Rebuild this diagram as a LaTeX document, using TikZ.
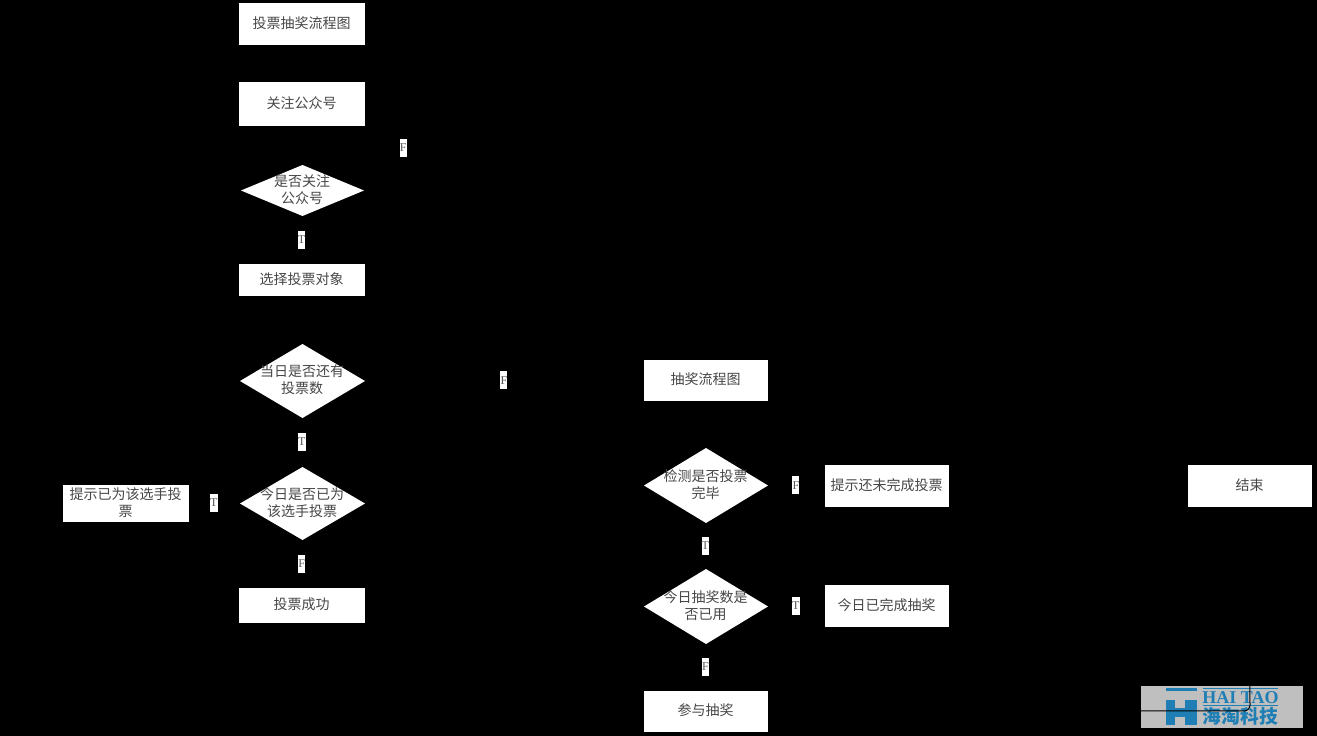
\documentclass[tikz,border=0pt]{standalone}
\usepackage{fontspec}
\setmainfont{Liberation Serif}
\newfontfamily\cjk{Noto Sans CJK SC}
\usetikzlibrary{arrows.meta}
\definecolor{logoblue}{HTML}{1F7FB5}
\definecolor{logogray}{HTML}{BFBFBF}
\tikzset{
  x=1pt,y=-1pt,
  flowbase/.style={inner sep=0pt,outer sep=0pt,text=black!72,align=center,yshift=1pt,xshift=-0.4pt,font=\cjk\fontsize{14}{17}\selectfont},
  conn/.style={draw=black,line width=1pt,shorten <=2pt,shorten >=2pt,-{Stealth[length=7pt,width=6pt]}},
  connjoin/.style={draw=black,line width=1pt,shorten <=2pt,shorten >=4pt,rounded corners=6pt},
  lbl/.style={fill=white,sharp corners,inner sep=0pt,outer sep=0pt,minimum width=7pt,minimum height=18pt,xshift=-0.2pt,yshift=-0.5pt,text=black!65,font=\fontsize{12}{12}\selectfont}
}
% centre x, centre y, width, height, name, text
\newcommand{\flowrect}[6]{%
  \fill[white] (#1-#3/2,#2-#4/2) rectangle (#1+#3/2,#2+#4/2);
  \node[flowbase,minimum width=#3pt,minimum height=#4pt] (#5) at (#1,#2) {#6};}
\newcommand{\flowdiam}[6]{%
  \fill[white] (#1-#3/2,#2) -- (#1,#2-#4/2) -- (#1+#3/2,#2) -- (#1,#2+#4/2) -- cycle;
  \node[flowbase,minimum width=#3pt,minimum height=#4pt] (#5) at (#1,#2) {#6};}
\begin{document}
\begin{tikzpicture}
\useasboundingbox (0,0) rectangle (1317,736);
\fill[black] (0,0) rectangle (1317,736);

% watermark
\fill[logogray] (1141,686) rectangle (1303,728);
\fill[logoblue] (1166,688) rectangle (1197,691);
\fill[logoblue] (1166,700) rectangle (1175,725);
\fill[logoblue] (1185,700) rectangle (1197,725);
\fill[logoblue] (1175,708) rectangle (1185,717);
\fill[logoblue] (1203,688) rectangle (1278,689);
\fill[logoblue] (1203,704.5) rectangle (1278,705.5);
\node[inner sep=0pt,text=logoblue,font=\fontsize{18}{18}\bfseries\selectfont] (logoen) at (1240.5,697.5) {HAI TAO};
\node[inner sep=0pt,text=logoblue,font=\cjk\fontsize{18.8}{19}\bfseries\selectfont] (logocn) at (1240.5,716.5) {海淘科技};

% left column
\flowrect{302}{24}{126}{42}{title1}{投票抽奖流程图}
\flowrect{302}{104}{126}{44}{follow}{关注公众号}
\flowdiam{302.5}{190.5}{123}{51}{isfollow}{是否关注\\公众号}
\flowrect{302}{280}{126}{32}{choose}{选择投票对象}
\flowdiam{302.5}{381}{125}{74}{hasvotes}{当日是否还有\\投票数}
\flowdiam{302.5}{503.5}{125}{73}{voted}{今日是否已为\\该选手投票}
\flowrect{302}{605.5}{126}{35}{success}{投票成功}
\flowrect{126}{503.5}{126}{37}{already}{提示已为该选手投\\票}

% middle column
\flowrect{706}{380.5}{124}{41}{title2}{抽奖流程图}
\flowdiam{706}{485.5}{124}{75}{check}{检测是否投票\\完毕}
\flowdiam{706}{606.5}{124}{75}{used}{今日抽奖数是\\否已用}
\flowrect{706}{711}{124}{41}{join}{参与抽奖}

% right
\flowrect{887}{486}{124}{42}{notdone}{提示还未完成投票}
\flowrect{887}{606}{124}{42}{done}{今日已完成抽奖}
\flowrect{1250}{486}{124}{42}{finish}{结束}

% connectors
\coordinate (bendA) at (403.5,190.5);
\coordinate (bendB) at (403.5,104);
\coordinate (bendC) at (1250,711);
\coordinate (bendD) at (1250,606);
\draw[conn] (title1.south) -- (follow.north);
\draw[conn] (follow.south) -- (isfollow.north);
\draw[conn] (isfollow.south) -- node[lbl]{T} (choose.north);
\draw[conn,rounded corners=6pt] (isfollow.east) -- (bendA) -- node[lbl]{F} (bendB) -- (follow.east);
\draw[conn] (choose.south) -- (hasvotes.north);
\draw[conn] (hasvotes.south) -- node[lbl]{T} (voted.north);
\draw[conn] (hasvotes.east) -- node[lbl]{F} (title2.west);
\draw[conn] (voted.west) -- node[lbl]{T} (already.east);
\draw[conn] (voted.south) -- node[lbl]{F} (success.north);
\draw[conn] (title2.south) -- (check.north);
\draw[conn] (check.east) -- node[lbl]{F} (notdone.west);
\draw[conn] (check.south) -- node[lbl]{T} (used.north);
\draw[conn] (used.east) -- node[lbl]{T} (done.west);
\draw[conn] (used.south) -- node[lbl]{F} (join.north);
\draw[conn] (notdone.east) -- (finish.west);
\draw[connjoin] (done.east) -- (bendD) -- (finish.south);
\draw[conn,rounded corners=6pt] (join.east) -- (bendC) -- (finish.south);
\end{tikzpicture}
\end{document}
